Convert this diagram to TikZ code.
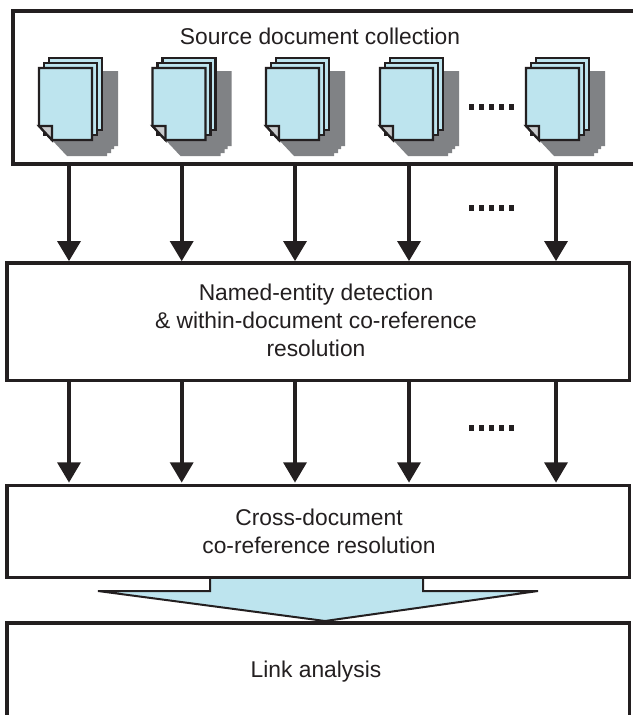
\documentclass[tikz,border=0pt]{standalone}
\usepackage{fontspec}
\setmainfont{Liberation Sans}
\definecolor{dk}{HTML}{231F20}
\definecolor{pale}{HTML}{BDE4EE}
\definecolor{shadowgrey}{HTML}{808285}
\definecolor{foldc}{HTML}{C8CACC}
\tikzset{
  frame/.style={draw=dk,line width=3.6pt,fill=white,inner sep=0pt},
  label/.style={font=\fontsize{22.8}{28}\selectfont,text=dk,align=center,inner sep=0pt},
  flow/.style={draw=dk,line width=4.2pt},
  headtip/.style={fill=dk,draw=none},
  sheet/.style={draw=dk,line width=2.2pt,fill=pale,line join=miter},
  dotm/.style={fill=dk,draw=none}
}
\newcommand{\docstack}[1]{%
\begin{scope}[shift={(#1,0)}]
  \fill[shadowgrey] (20,71) -- (79,71) -- (79,146) -- (75,146) -- (75,149) -- (72,149) -- (72,153) -- (68,153) -- (68,156) -- (28,156) -- (13,140) -- cycle;
  \path[sheet] (10,58) -- (63,58) -- (63,130) -- (10,130) -- cycle;
  \path[sheet] (5,63) -- (58,63) -- (58,135) -- (5,135) -- cycle;
  \path[sheet] (0,68) -- (53,68) -- (53,140) -- (13,140) -- (0,126) -- cycle;
  \path[sheet,fill=foldc] (0,126) -- (13,126) -- (13,140) -- cycle;
\end{scope}}
\newcommand{\dotrow}[1]{%
  \foreach \k in {0,...,4} \fill[dotm] ({469+\k*9.9},{#1-2.6}) rectangle +(5.2,5.2);}
\begin{document}
\begin{tikzpicture}[x=1pt,y=-1pt]
\useasboundingbox (0,0) rectangle (632,715);
% boxes
\path[frame] (640,11) -- (13,11) -- (13,164) -- (640,164);
\path[frame] (7,263) rectangle (629.5,380.5);
\path[frame] (7,485.5) rectangle (629.5,577.5);
\path[frame] (7,725) -- (7,623) -- (629.5,623) -- (629.5,725);
\node[label] (src) at (320,36) {Source document collection};
\node[label] (ner) at (316,320) {Named-entity detection\\\& within-document co-reference\\resolution};
\node[label] (xdoc) at (319,531) {Cross-document\\co-reference resolution};
\node[label] (link) at (316,672) {Link analysis};
% documents
\docstack{39}\docstack{152.5}\docstack{266}\docstack{380}\docstack{526}
% arrows
\foreach \x in {69,181.7,295,409,556}{
  \coordinate (a) at (\x,164); \coordinate (b) at (\x,245);
  \draw[flow] (a) -- (b);
  \fill[headtip] (\x-12,241) -- (\x+12,241) -- (\x,261) -- cycle;
  \coordinate (c) at (\x,380.5); \coordinate (d) at (\x,466);
  \draw[flow] (c) -- (d);
  \fill[headtip] (\x-12,462.3) -- (\x+12,462.3) -- (\x,482.5) -- cycle;
}
\dotrow{107}\dotrow{208}\dotrow{428}
% block arrow
\path[fill=pale] (210,579) -- (423,579) -- (423,591) -- (538,591) -- (325,621) -- (98,591) -- (210,591) -- cycle;
\draw[dk,line width=2pt,line join=miter] (210,579) -- (210,591) -- (98,591) -- (325,621) -- (538,591) -- (423,591) -- (423,579);
\end{tikzpicture}
\end{document}
